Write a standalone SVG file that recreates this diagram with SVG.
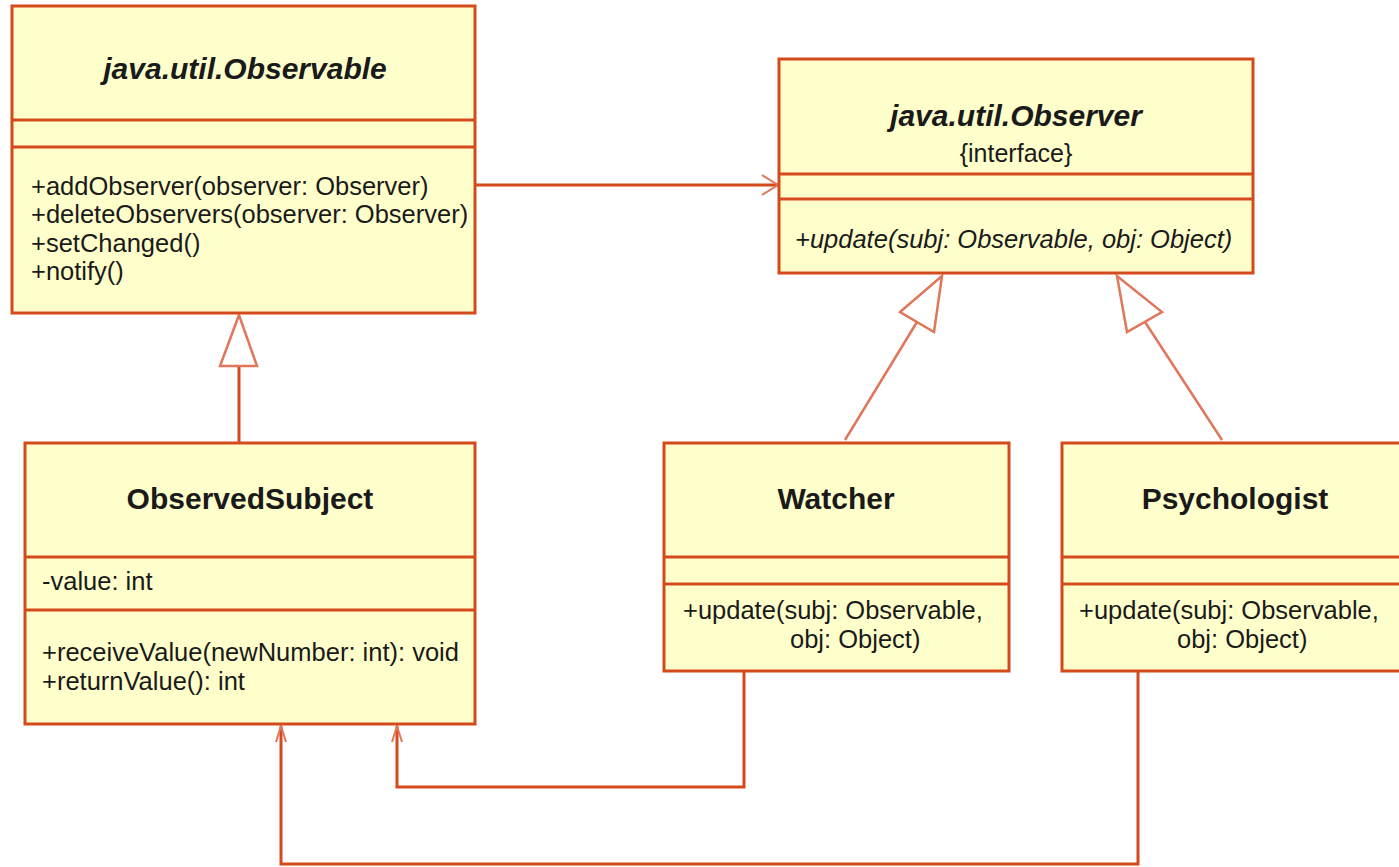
<svg xmlns="http://www.w3.org/2000/svg" width="1399" height="867" viewBox="0 0 1399 867">
  <defs>
    <style>
      .box { fill: #ffffcc; stroke: #d54a1c; stroke-width: 3; }
      .sep { stroke: #d54a1c; stroke-width: 3; fill: none; }
      .title { font-family: "Liberation Sans", Arial, sans-serif; font-size: 30px; font-weight: bold; fill: #1a1a1a; text-anchor: middle; }
      .ital { font-style: italic; }
      .member { font-family: "Liberation Sans", Arial, sans-serif; font-size: 25.5px; fill: #1a1a1a; }
      .note { font-family: "Liberation Sans", Arial, sans-serif; font-size: 25px; fill: #1a1a1a; text-anchor: middle; }
      .link { stroke: #d54a1c; stroke-width: 3; fill: none; }
      .gen { stroke: #e0765a; stroke-width: 2.5; fill: none; }
      .tri { stroke: #e0765a; stroke-width: 2.5; fill: #ffffff; stroke-linejoin: miter; }
      .head { stroke: #e0765a; stroke-width: 2; fill: none; }
    </style>
  </defs>

  <rect width="1399" height="867" fill="#ffffff"/>

  <!-- connectors -->
  <g id="connectors">
    <!-- association: Observable -> Observer -->
    <line class="link" x1="475" y1="185" x2="778" y2="185"/>
    <polyline class="head" points="762,175 778,185 762,195"/>

    <!-- generalization: ObservedSubject -> Observable -->
    <line class="link" x1="239" y1="443" x2="239" y2="366"/>
    <polygon class="tri" points="239,315 220,366 257,366"/>

    <!-- realization: Watcher -> Observer -->
    <line class="gen" x1="845" y1="440" x2="917" y2="322"/>
    <polygon class="tri" points="942,276 900,312 934,332"/>

    <!-- realization: Psychologist -> Observer -->
    <line class="gen" x1="1222" y1="440" x2="1145" y2="322"/>
    <polygon class="tri" points="1117,276 1127,332 1162,312"/>

    <!-- Watcher -> ObservedSubject -->
    <polyline class="link" points="744,671 744,787 397,787 397,726"/>
    <polyline class="head" points="392,742 397,726 402,742"/>

    <!-- Psychologist -> ObservedSubject -->
    <polyline class="link" points="1138,671 1138,864 281,864 281,726"/>
    <polyline class="head" points="276,742 281,726 286,742"/>
  </g>

  <!-- java.util.Observable -->
  <g id="observable">
    <rect class="box" x="12" y="6" width="463" height="307"/>
    <line class="sep" x1="12" y1="120" x2="475" y2="120"/>
    <line class="sep" x1="12" y1="147" x2="475" y2="147"/>
    <text class="title ital" x="245" y="79">java.util.Observable</text>
    <text class="member" x="31" y="195">+addObserver(observer: Observer)</text>
    <text class="member" x="31" y="223">+deleteObservers(observer: Observer)</text>
    <text class="member" x="31" y="252">+setChanged()</text>
    <text class="member" x="31" y="280">+notify()</text>
  </g>

  <!-- java.util.Observer -->
  <g id="observer">
    <rect class="box" x="779" y="59" width="474" height="214"/>
    <line class="sep" x1="779" y1="174" x2="1253" y2="174"/>
    <line class="sep" x1="779" y1="199" x2="1253" y2="199"/>
    <text class="title ital" x="1016" y="126">java.util.Observer</text>
    <text class="note" x="1016" y="162">{interface}</text>
    <text class="member ital" x="795" y="248">+update(subj: Observable, obj: Object)</text>
  </g>

  <!-- ObservedSubject -->
  <g id="observed-subject">
    <rect class="box" x="25" y="443" width="450" height="281"/>
    <line class="sep" x1="25" y1="557" x2="475" y2="557"/>
    <line class="sep" x1="25" y1="610" x2="475" y2="610"/>
    <text class="title" x="250" y="509">ObservedSubject</text>
    <text class="member" x="42" y="590">-value: int</text>
    <text class="member" x="42" y="661">+receiveValue(newNumber: int): void</text>
    <text class="member" x="42" y="690">+returnValue(): int</text>
  </g>

  <!-- Watcher -->
  <g id="watcher">
    <rect class="box" x="664" y="443" width="345" height="228"/>
    <line class="sep" x1="664" y1="557" x2="1009" y2="557"/>
    <line class="sep" x1="664" y1="584" x2="1009" y2="584"/>
    <text class="title" x="836" y="509">Watcher</text>
    <text class="member" x="683" y="619">+update(subj: Observable,</text>
    <text class="member" x="790" y="648">obj: Object)</text>
  </g>

  <!-- Psychologist -->
  <g id="psychologist">
    <rect class="box" x="1062" y="443" width="345" height="228"/>
    <line class="sep" x1="1062" y1="557" x2="1407" y2="557"/>
    <line class="sep" x1="1062" y1="584" x2="1407" y2="584"/>
    <text class="title" x="1235" y="509">Psychologist</text>
    <text class="member" x="1079" y="619">+update(subj: Observable,</text>
    <text class="member" x="1177" y="648">obj: Object)</text>
  </g>
</svg>
